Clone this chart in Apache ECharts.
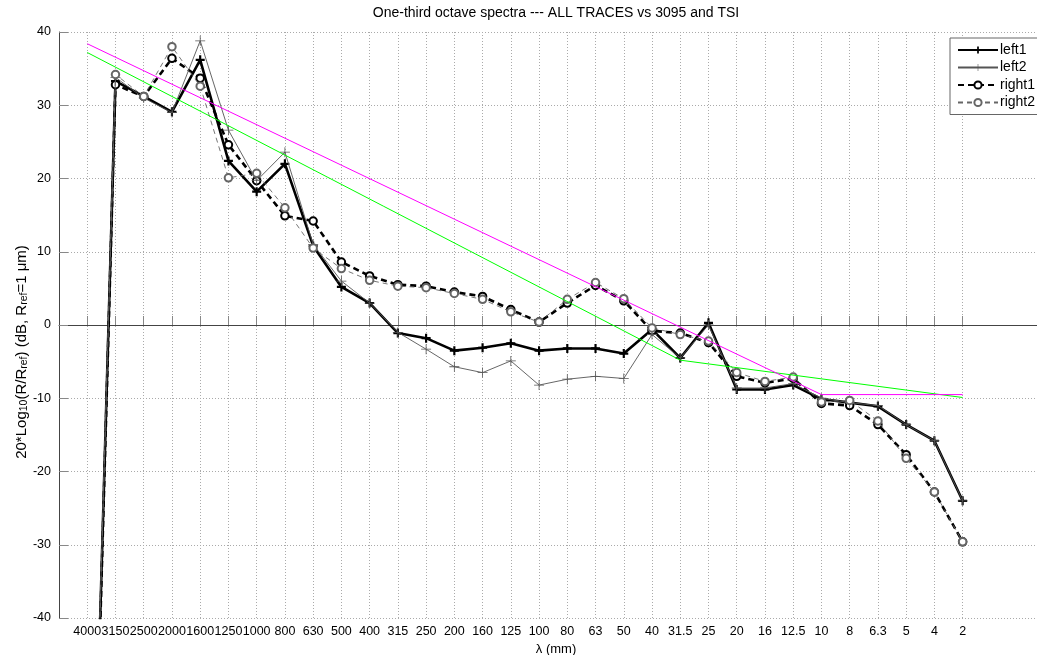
<!DOCTYPE html>
<html><head><meta charset="utf-8">
<script src="https://cdn.jsdelivr.net/npm/echarts@6/dist/echarts.min.js"></script>
<style>html,body{margin:0;padding:0;background:#fff}#c{width:1037px;height:655px}</style>
</head><body><div id="c"></div>
<script>
const tickLabels = ['4000','3150','2500','2000','1600','1250','1000','800','630','500','400','315','250','200','160','125','100','80','63','50','40','31.5','25','20','16','12.5','10','8','6.3','5','4','2'];
const left1  = [-102, 33.3, 31.2, 29.1, 36.2, 22.4, 18.2, 22.0, 10.8, 5.2, 3.0, -1.1, -1.8, -3.5, -3.1, -2.5, -3.5, -3.2, -3.2, -3.9, -0.6, -4.5, 0.3, -8.8, -8.8, -8.2, -10.1, -10.6, -11.1, -13.6, -15.8, -24.0];
const left2  = [-100, 33.8, 31.0, 29.0, 38.8, 26.6, 19.7, 23.6, 11.0, 6.0, 3.0, -1.0, -3.3, -5.7, -6.5, -4.9, -8.2, -7.4, -7.0, -7.3, -1.3, -4.5, 0.0, -8.6, -8.6, -8.0, -10.0, -10.6, -11.0, -13.6, -15.8, -24.0];
const right1 = [-104, 32.8, 31.2, 36.4, 33.7, 24.6, 19.7, 14.9, 14.2, 8.6, 6.7, 5.5, 5.3, 4.5, 3.9, 2.1, 0.4, 3.0, 5.4, 3.3, -0.8, -1.1, -2.4, -7.0, -7.9, -7.3, -10.7, -11.0, -13.6, -17.7, -22.8, -29.6];
const right2 = [-100, 34.2, 31.2, 38.0, 32.6, 20.1, 20.7, 16.0, 10.5, 7.7, 6.1, 5.3, 5.1, 4.3, 3.5, 1.8, 0.4, 3.5, 5.8, 3.6, -0.4, -1.3, -2.2, -6.5, -7.7, -7.1, -10.5, -10.3, -13.1, -18.2, -22.8, -29.6];
const greenX = [1, 22, 32];
const greenY = [37.2, -4.8, -9.9];
const magentaX = [1, 27, 32];
const magentaY = [38.4, -9.5, -9.5];

const FONT = "'Liberation Sans', Arial, sans-serif";
const pairs = arr => arr.map((v, i) => [i + 1, v]);
const zip = (xs, ys) => xs.map((x, i) => [x, ys[i]]);
const tickPos = tickLabels.map((_, i) => i + 1);
const plusThick = 'path://M0,3.8H10V6.2H0Z M3.8,0H6.2V10H3.8Z';
const plusThin = 'path://M0,4.6H10V5.4H0Z M4.6,0H5.4V10H4.6Z';

const chart = echarts.init(document.getElementById('c'), null, {renderer: 'canvas'});
chart.setOption({
  animation: false,
  backgroundColor: '#fff',
  title: {
    text: 'One-third octave spectra --- ALL TRACES vs 3095 and TSI',
    left: 551, top: 1, textAlign: 'center',
    textStyle: {fontFamily: FONT, fontSize: 14, fontWeight: 'normal', color: '#000'}
  },
  legend: {
    orient: 'vertical', left: 950, top: 38,
    data: ['left1', 'left2', 'right1', 'right2'],
    itemWidth: 40, itemHeight: 9, itemGap: 3.5,
    padding: [5, 40, 5, 7],
    backgroundColor: '#fff', borderColor: '#666', borderWidth: 1,
    textStyle: {fontFamily: FONT, fontSize: 14, color: '#000', padding: [0, 0, 0, -3]}
  },
  grid: {left: 59, right: -16, top: 32, bottom: 37, containLabel: false, outerBoundsMode: 'none'},
  xAxis: {
    type: 'value', min: 0, max: 35.2, interval: 1,
    name: 'λ (mm)', nameLocation: 'middle', nameGap: 25,
    nameTextStyle: {fontFamily: FONT, fontSize: 13, color: '#000'},
    axisLine: {lineStyle: {color: '#444', width: 1}},
    axisTick: {inside: true, length: 9, customValues: tickPos, lineStyle: {color: '#888'}},
    axisLabel: {customValues: tickPos, formatter: v => tickLabels[Math.round(v) - 1] || '',
      fontFamily: FONT, fontSize: 12.5, color: '#000', margin: 7, hideOverlap: false},
    splitLine: {show: true, lineStyle: {color: '#aaa', type: [1, 2], width: 1}}
  },
  yAxis: {
    type: 'value', min: -40, max: 40, interval: 10,
    axisLine: {show: true, lineStyle: {color: '#444', width: 1}},
    axisTick: {show: true, inside: true, length: 9, lineStyle: {color: '#888'}},
    axisLabel: {fontFamily: FONT, fontSize: 12.5, color: '#000', margin: 8},
    splitLine: {show: true, lineStyle: {color: '#aaa', type: [1, 2], width: 1}}
  },
  graphic: [{
    type: 'text', x: 22, y: 352, rotation: Math.PI / 2,
    style: {
      text: '20*Log{sub|10}(R/R{sub|ref}) (dB, R{sub|ref}=1 μm)',
      align: 'center', verticalAlign: 'middle',
      font: '15px ' + FONT, fill: '#000',
      rich: {sub: {fontSize: 10.5, fontFamily: FONT, lineHeight: 10.5, verticalAlign: 'bottom'}}
    }
  }],
  series: [
    {name: 'left1', type: 'line', data: pairs(left1), symbol: plusThick, symbolSize: 9,
      lineStyle: {color: '#000', width: 2.6}, itemStyle: {color: '#000'}, z: 3},
    {name: 'left2', type: 'line', data: pairs(left2), symbol: plusThin, symbolSize: 10,
      lineStyle: {color: '#555', width: 0.9}, itemStyle: {color: '#555'}, z: 4},
    {name: 'right1', type: 'line', data: pairs(right1), symbol: 'emptyCircle', symbolSize: 7.5,
      lineStyle: {color: '#000', width: 2.6, type: [6, 4]}, itemStyle: {color: '#000', borderWidth: 2.2}, z: 3},
    {name: 'right2', type: 'line', data: pairs(right2), symbol: 'emptyCircle', symbolSize: 7.5,
      lineStyle: {color: '#666', width: 0.9, type: [5, 4]}, itemStyle: {color: '#666', borderWidth: 1}, z: 4},
    {name: 'green', type: 'line', data: zip(greenX, greenY), symbol: 'none',
      lineStyle: {color: '#00ff00', width: 1}, z: 5},
    {name: 'magenta', type: 'line', data: zip(magentaX, magentaY), symbol: 'none',
      lineStyle: {color: '#ff00ff', width: 1}, z: 5}
  ]
});
</script></body></html>
